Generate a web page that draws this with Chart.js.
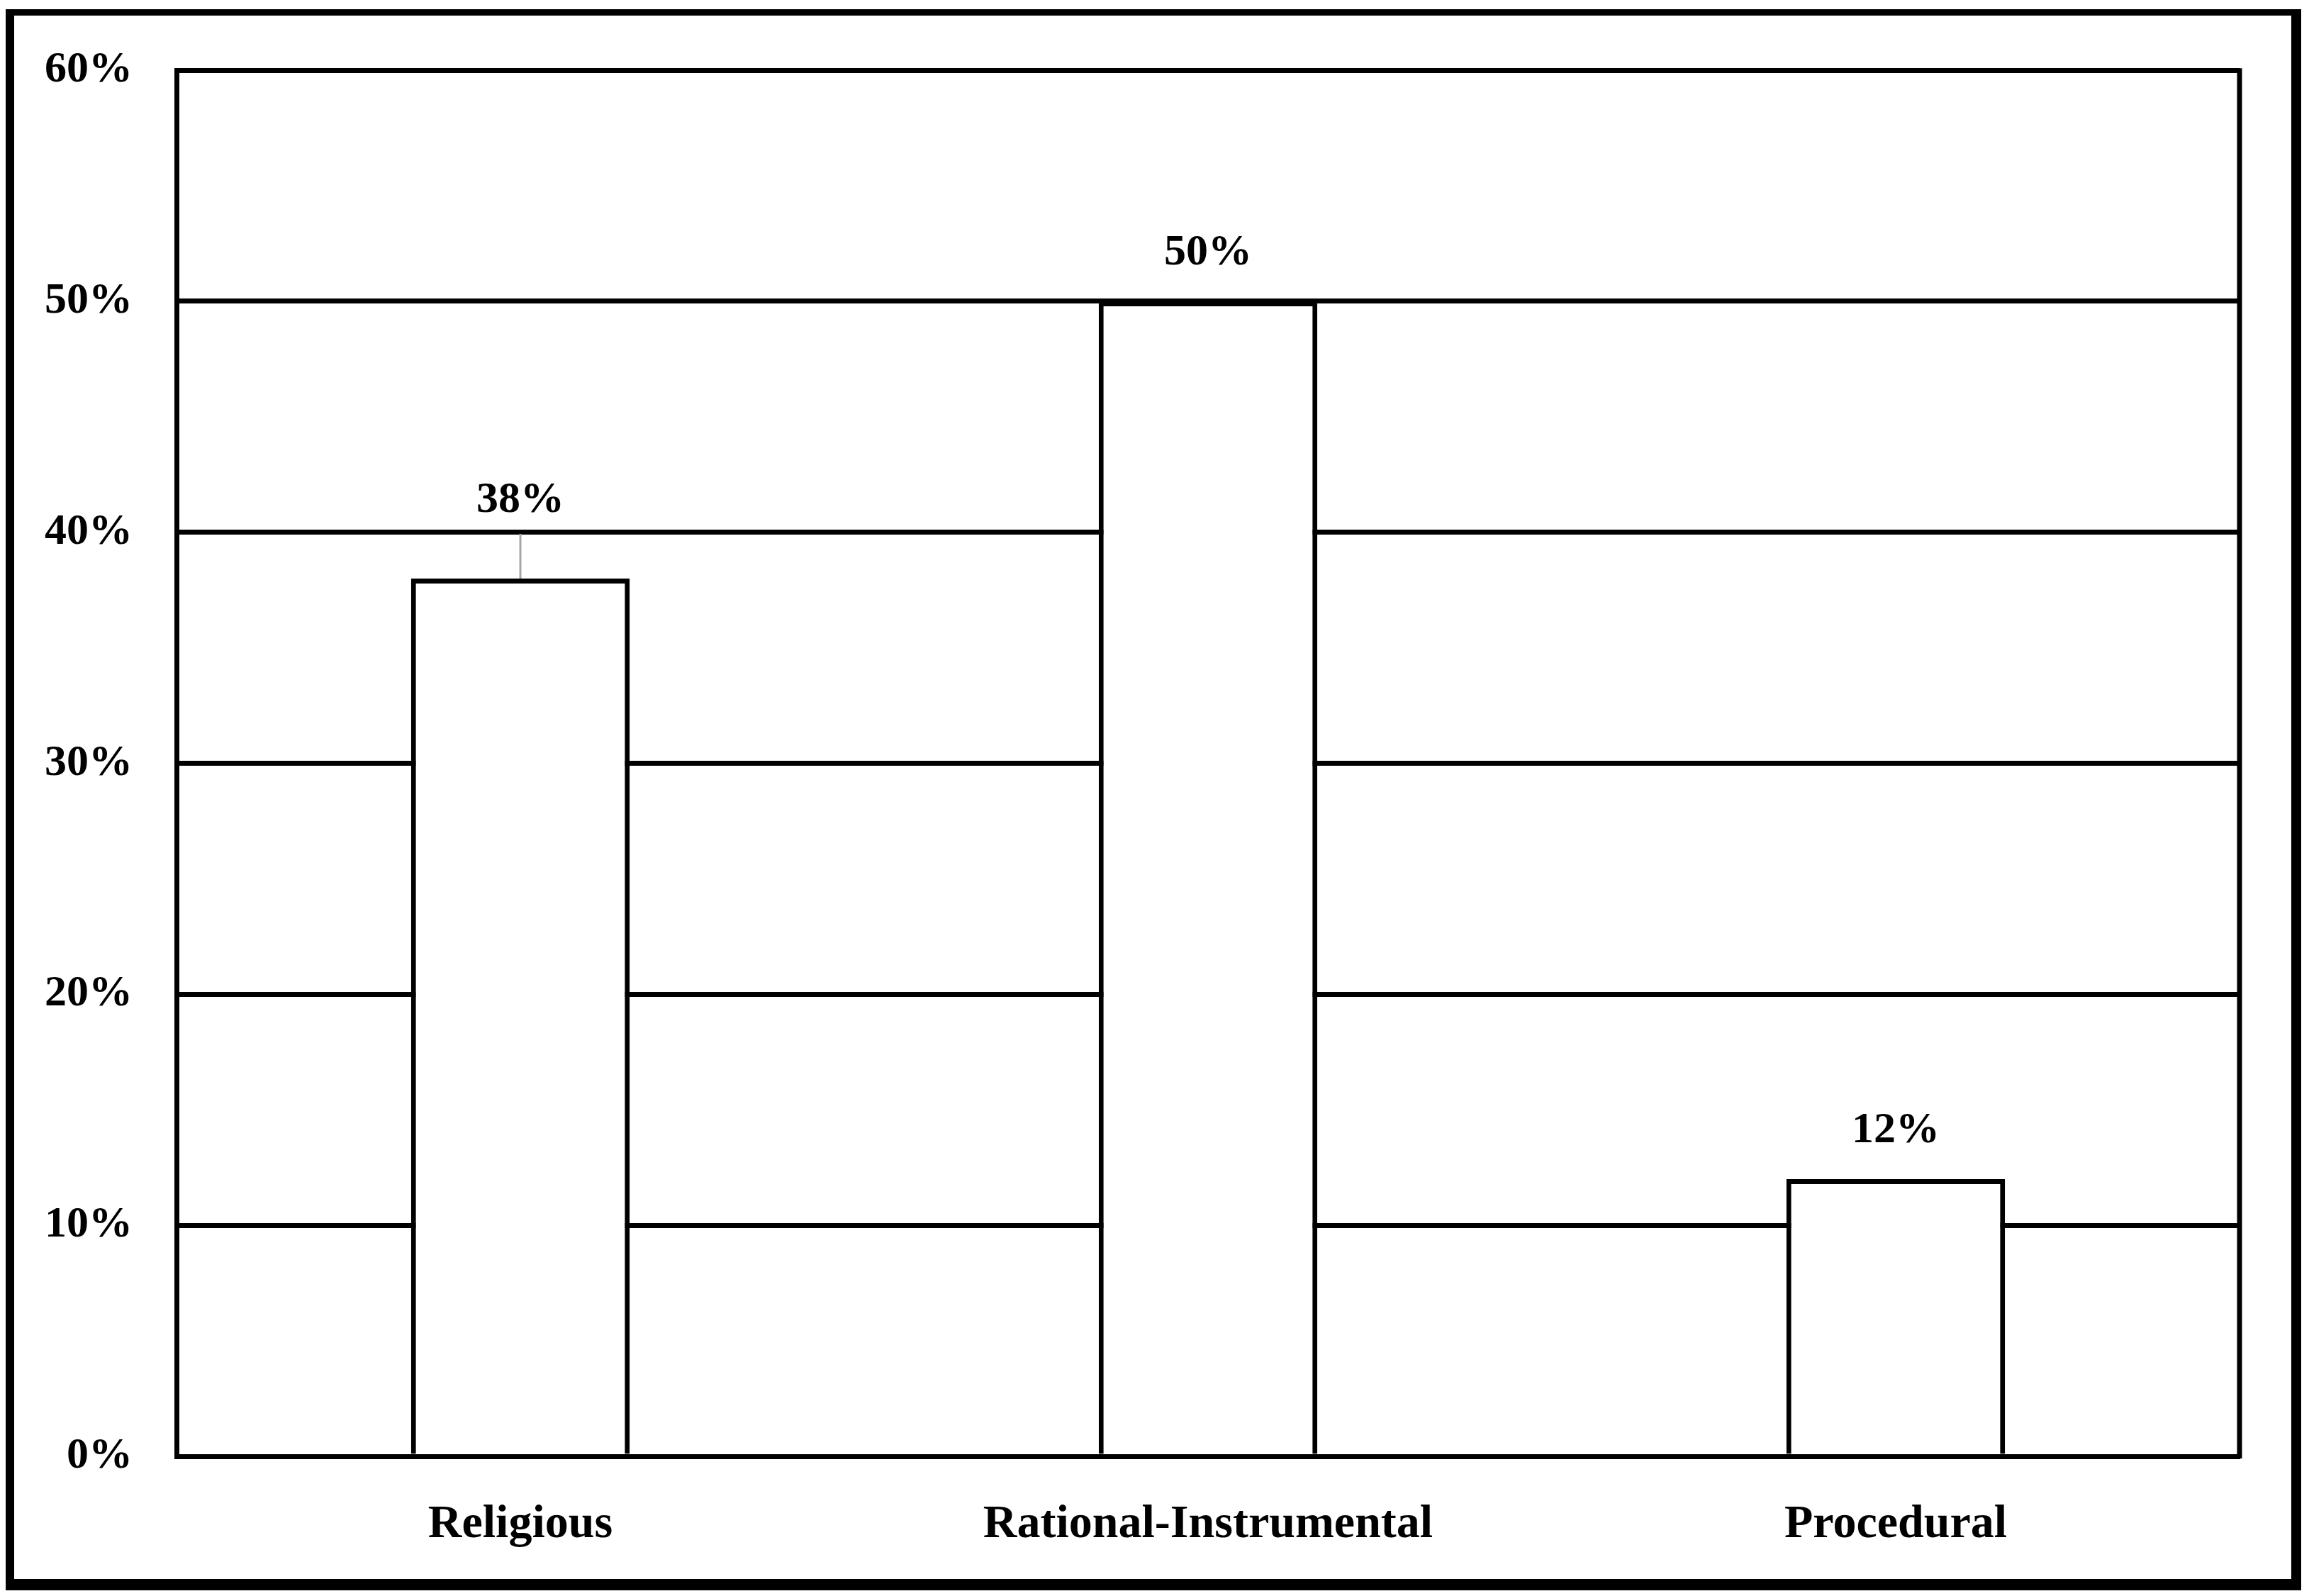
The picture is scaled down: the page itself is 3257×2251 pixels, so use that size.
<!DOCTYPE html>
<html lang="en">

<head>
    <meta charset="UTF-8">
    <title>Religious / Rational-Instrumental / Procedural</title>
    <script src="https://cdn.jsdelivr.net/npm/chart.js"></script>
    <style>
        body {
            margin: 0;
            background: #ffffff;
        }

        .chart-container {
            width: 3257px;
            height: 2251px;
            position: relative;
        }
    </style>
</head>

<body>

    <div class="chart-container">
        <canvas id="shareChart"></canvas>
    </div>

    <script>
        const categories = ['Religious', 'Rational-Instrumental', 'Procedural'];
        const shares = [38, 50, 12];
        const yTicks = [0, 10, 20, 30, 40, 50, 60];

        const serif = '"Liberation Serif", "Times New Roman", serif';

        // outer black frame (heavier at right/bottom) and right edge of the plot box
        const framePlugin = {
            id: 'frame',
            beforeDraw(chart) {
                const ctx = chart.ctx;
                ctx.save();
                ctx.fillStyle = '#ffffff';
                ctx.fillRect(0, 0, chart.width, chart.height);
                ctx.fillStyle = '#000000';
                ctx.fillRect(8, 13, 3238, 2230);
                ctx.fillStyle = '#ffffff';
                ctx.fillRect(20, 22, 3212, 2205);
                ctx.restore();
            },
            beforeDatasetsDraw(chart) {
                const { ctx, chartArea } = chart;
                ctx.save();
                ctx.strokeStyle = '#000000';
                ctx.lineWidth = 7;
                ctx.beginPath();
                ctx.moveTo(chartArea.right, chartArea.top - 3);
                ctx.lineTo(chartArea.right, chartArea.bottom + 3);
                ctx.stroke();
                ctx.restore();
            }
        };

        // value labels above the bars; the first one sits higher with a grey leader
        const liftedLabel = 0;
        const valueLabelPlugin = {
            id: 'valueLabels',
            afterDatasetsDraw(chart) {
                const ctx = chart.ctx;
                const meta = chart.getDatasetMeta(0);
                ctx.save();
                ctx.font = 'bold 62px ' + serif;
                ctx.fillStyle = '#000000';
                ctx.textAlign = 'center';
                ctx.textBaseline = 'alphabetic';
                meta.data.forEach((bar, i) => {
                    let base = bar.y - 52;
                    if (i === liftedLabel) {
                        base = bar.y - 94;
                        ctx.strokeStyle = '#a6a6a6';
                        ctx.lineWidth = 3;
                        ctx.beginPath();
                        ctx.moveTo(bar.x, bar.y);
                        ctx.lineTo(bar.x, bar.y - 63);
                        ctx.stroke();
                    }
                    ctx.fillText(shares[i] + '%', bar.x, base);
                });
                ctx.restore();
            }
        };

        const ctx = document.getElementById('shareChart').getContext('2d');

        new Chart(ctx, {
            type: 'bar',
            data: {
                labels: categories,
                datasets: [{
                    data: shares,
                    backgroundColor: '#ffffff',
                    borderColor: '#000000',
                    borderWidth: 7,
                    borderSkipped: 'start',
                    categoryPercentage: 1,
                    barPercentage: 0.318
                }]
            },
            options: {
                responsive: true,
                maintainAspectRatio: false,
                animation: false,
                layout: {
                    padding: { top: 96, right: 98, bottom: 0, left: 0 }
                },
                plugins: {
                    legend: { display: false },
                    tooltip: { enabled: false }
                },
                scales: {
                    x: {
                        grid: { display: false, drawTicks: false },
                        border: { color: '#000000', width: 7 },
                        ticks: {
                            color: '#000000',
                            padding: 57,
                            font: { family: serif, size: 66, weight: 'bold' }
                        },
                        afterFit(scale) { scale.height = 197; }
                    },
                    y: {
                        min: yTicks[0],
                        max: yTicks[yTicks.length - 1],
                        afterBuildTicks(scale) {
                            scale.ticks = yTicks.map(v => ({ value: v }));
                        },
                        grid: { color: '#000000', lineWidth: 7, drawTicks: false },
                        border: { color: '#000000', width: 7 },
                        ticks: {
                            color: '#000000',
                            padding: 62,
                            font: { family: serif, size: 62, weight: 'bold' },
                            callback: v => v + '%'
                        },
                        afterFit(scale) { scale.width = 249; }
                    }
                }
            },
            plugins: [framePlugin, valueLabelPlugin]
        });
    </script>

</body>

</html>
